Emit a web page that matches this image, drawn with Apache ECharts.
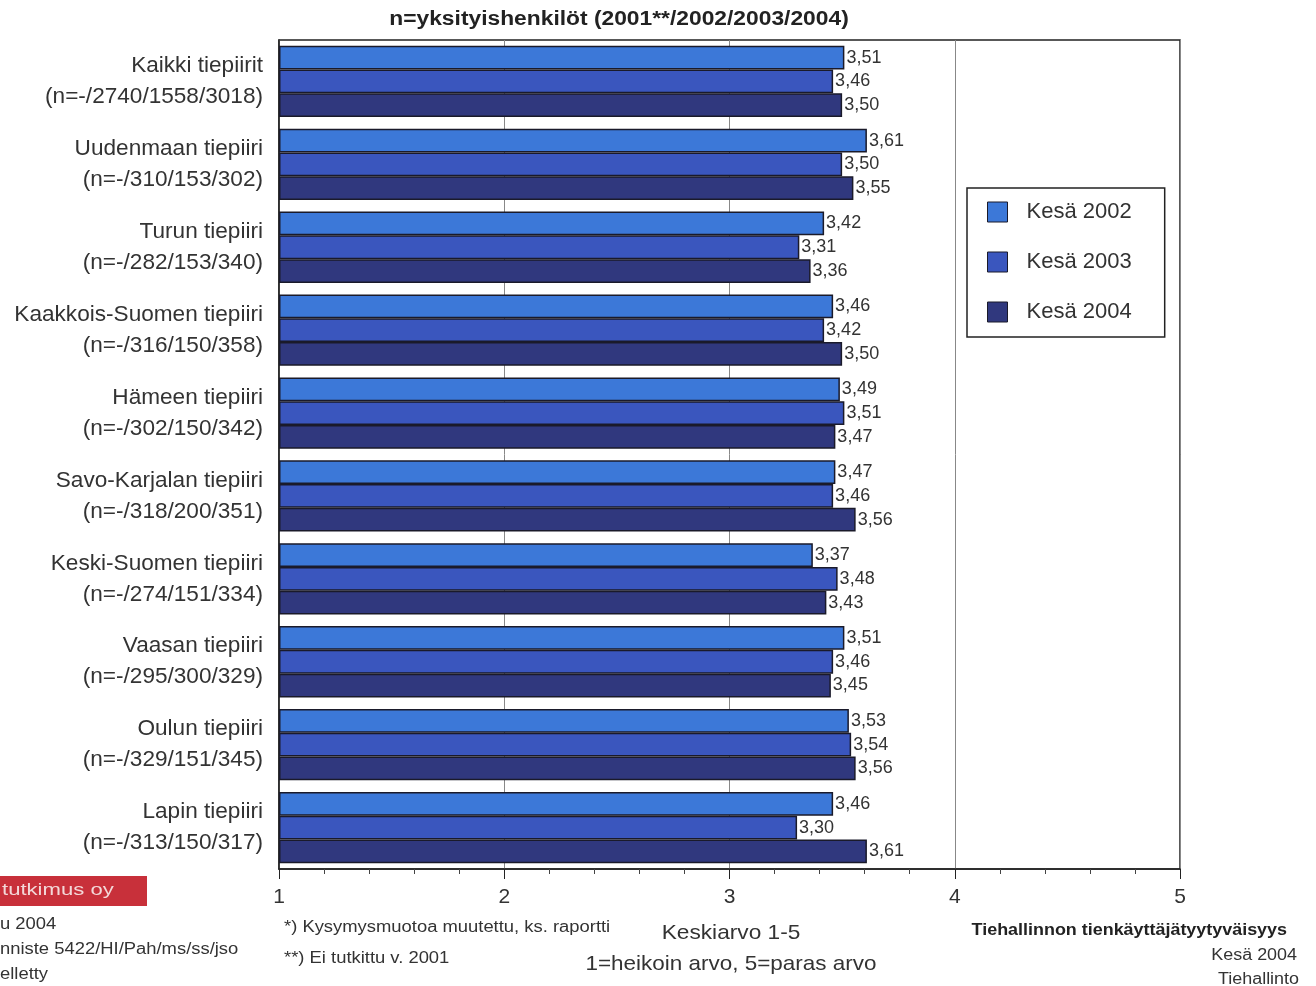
<!DOCTYPE html>
<html><head><meta charset="utf-8">
<script src="https://cdn.jsdelivr.net/npm/echarts@6/dist/echarts.min.js"></script>
<style>html,body{margin:0;padding:0;background:#fff}#c{width:1316px;height:986px}</style>
</head><body><div id="c"></div>
<script>
const categories = [
  "Kaikki tiepiirit\n(n=-/2740/1558/3018)",
  "Uudenmaan tiepiiri\n(n=-/310/153/302)",
  "Turun tiepiiri\n(n=-/282/153/340)",
  "Kaakkois-Suomen tiepiiri\n(n=-/316/150/358)",
  "Hämeen tiepiiri\n(n=-/302/150/342)",
  "Savo-Karjalan tiepiiri\n(n=-/318/200/351)",
  "Keski-Suomen tiepiiri\n(n=-/274/151/334)",
  "Vaasan tiepiiri\n(n=-/295/300/329)",
  "Oulun tiepiiri\n(n=-/329/151/345)",
  "Lapin tiepiiri\n(n=-/313/150/317)"
];
const seriesNames = ["Kesä 2002", "Kesä 2003", "Kesä 2004"];
const kesa2002 = [3.51, 3.61, 3.42, 3.46, 3.49, 3.47, 3.37, 3.51, 3.53, 3.46];
const kesa2003 = [3.46, 3.50, 3.31, 3.42, 3.51, 3.46, 3.48, 3.46, 3.54, 3.30];
const kesa2004 = [3.50, 3.55, 3.36, 3.50, 3.47, 3.56, 3.43, 3.45, 3.56, 3.61];
const xTicks = [1, 2, 3, 4, 5];

const colors = ["#3C78D8", "#3A56BE", "#30387E"];
const FONT = "Liberation Sans, Arial, sans-serif";
const chart = echarts.init(document.getElementById('c'));
const fmt = v => v.toFixed(2).replace('.', ',');
const mk = (name, data, i) => ({
  name, type: 'bar', data,
  barGap: '0%', barCategoryGap: '14%',
  itemStyle: { color: colors[i], borderColor: '#1a1a2a', borderWidth: 1.5 },
  label: { show: true, position: 'right', distance: 2, color: '#333', fontSize: 18, fontFamily: FONT,
           formatter: p => fmt(p.value) },
  emphasis: { disabled: true }
});
const txt = (x, y, text, size, sx, align, extra) => ({
  type: 'text', x, y, scaleX: sx,
  style: Object.assign({ text, fontSize: size, fill: '#333', fontFamily: FONT, align: align || 'left' }, extra || {})
});
chart.setOption({
  animation: false,
  legend: {
    data: seriesNames, orient: 'vertical', left: 967, top: 188,
    padding: [13, 33, 14, 20], itemGap: 28,
    itemWidth: 20, itemHeight: 20, borderColor: '#222', borderWidth: 1.5,
    textStyle: { fontSize: 22, color: '#333', fontFamily: FONT, padding: [0, 0, 0, 14] },
    icon: 'rect',
    itemStyle: { borderColor: '#1a1a2a', borderWidth: 1 }
  },
  grid: { left: 279, right: 136, top: 40, bottom: 117, show: true, borderColor: '#222', borderWidth: 1.5, backgroundColor: '#fff' },
  xAxis: {
    type: 'value', min: 1, max: 5, interval: 1, startValue: 1,
    axisLine: { show: true, lineStyle: { color: '#222', width: 1.5 } },
    axisTick: { show: true, length: 10, lineStyle: { color: '#222' } },
    minorTick: { show: true, splitNumber: 5, length: 5, lineStyle: { color: '#444' } },
    splitLine: { show: true, lineStyle: { color: '#888', width: 1 } },
    axisLabel: { fontSize: 21, color: '#333', fontFamily: FONT, margin: 18,
                 formatter: v => xTicks.includes(v) ? String(v) : '' }
  },
  yAxis: {
    type: 'category', data: categories, inverse: true,
    axisLine: { show: true, lineStyle: { color: '#222', width: 1.5 } },
    axisTick: { show: false },
    axisLabel: { fontSize: 22.6, color: '#333', fontFamily: FONT, lineHeight: 31, margin: 16, align: 'right' }
  },
  series: [mk(seriesNames[0], kesa2002, 0), mk(seriesNames[1], kesa2003, 1), mk(seriesNames[2], kesa2004, 2)],
  graphic: [
    txt(619, 9, 'n=yksityishenkilöt (2001**/2002/2003/2004)', 20, 1.14, 'center', { fontWeight: 'bold', fill: '#222' }),
    txt(731, 923, 'Keskiarvo 1-5', 21, 1.08, 'center'),
    txt(731, 954, '1=heikoin arvo, 5=paras arvo', 21, 1.07, 'center'),
    txt(284, 920, '*) Kysymysmuotoa muutettu, ks. raportti', 16, 1.15),
    txt(284, 951, '**) Ei tutkittu v. 2001', 16, 1.15),
    txt(1287, 923, 'Tiehallinnon tienkäyttäjätyytyväisyys', 16, 1.12, 'right', { fontWeight: 'bold', fill: '#222' }),
    txt(1297, 948, 'Kesä 2004', 16, 1.12, 'right'),
    txt(1299, 972, 'Tiehallinto', 16, 1.12, 'right'),
    { type: 'rect', shape: { x: 0, y: 876, width: 147, height: 30 }, style: { fill: '#C8303A' } },
    txt(2, 882, 'tutkimus oy', 17, 1.3, 'left', { fill: '#f3d8d8' }),
    txt(0, 917, 'u 2004', 16, 1.15),
    txt(0, 942, 'nniste 5422/HI/Pah/ms/ss/jso', 16, 1.15),
    txt(0, 967, 'elletty', 16, 1.15)
  ]
});
</script></body></html>
